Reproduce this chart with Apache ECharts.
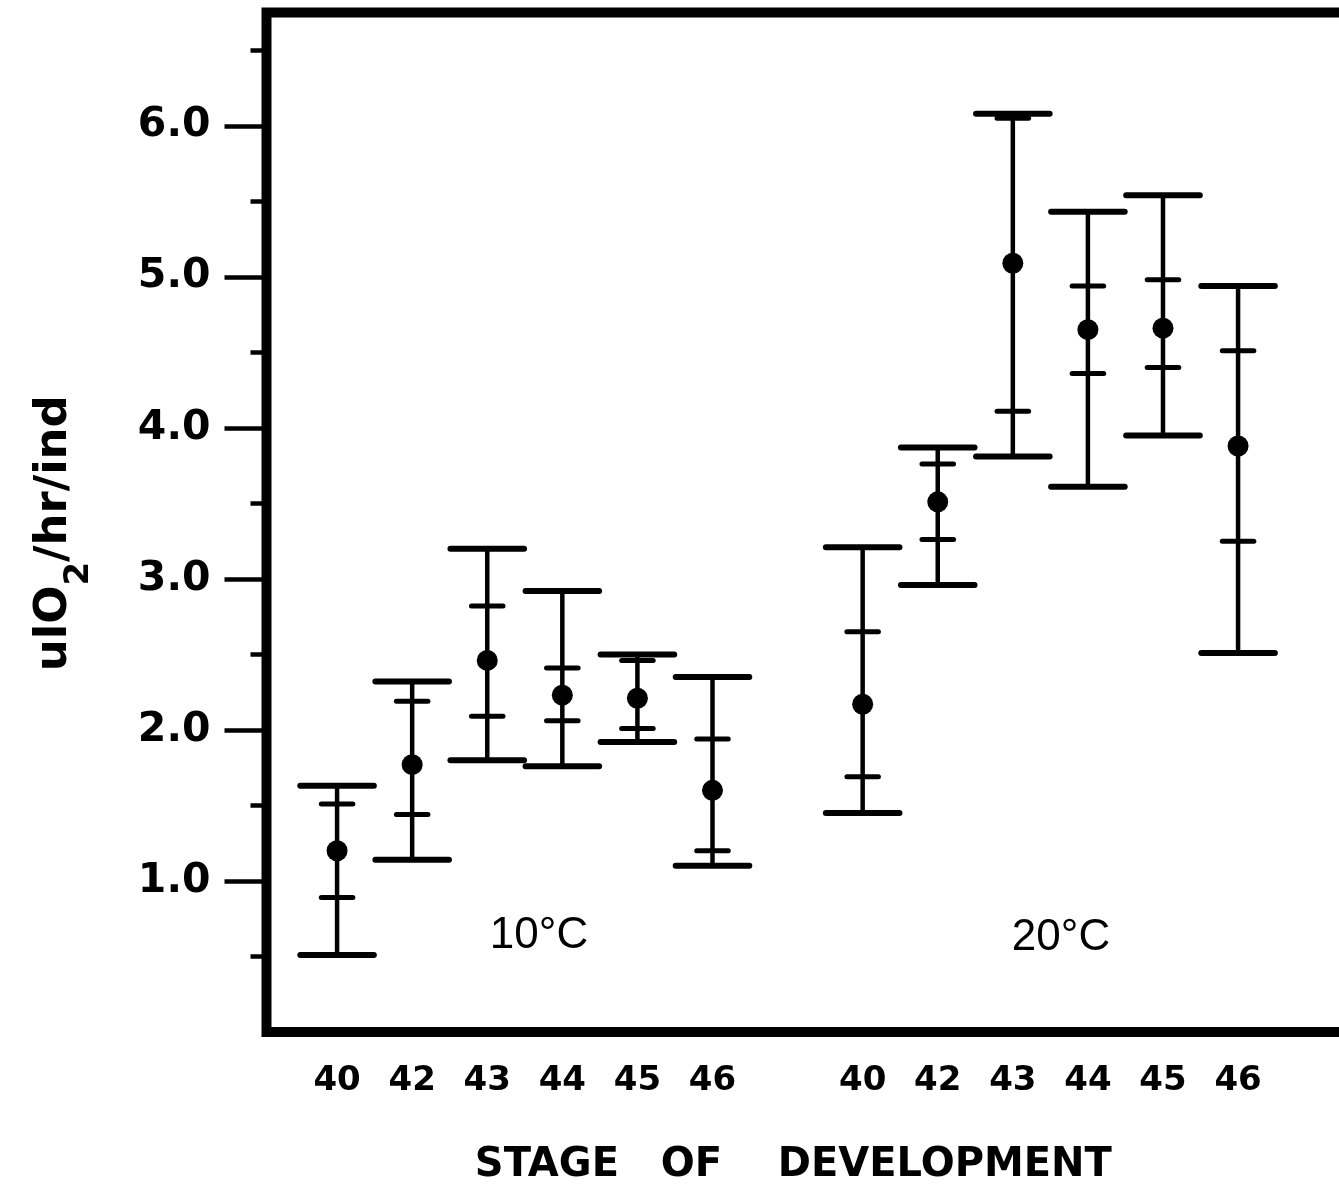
<!DOCTYPE html>
<html>
<head>
<meta charset="utf-8">
<script src="https://cdn.jsdelivr.net/npm/echarts@6/dist/echarts.min.js"></script>
<style>
  html, body { margin: 0; padding: 0; background: #ffffff; }
  #chart { width: 1339px; height: 1194px; }
</style>
</head>
<body>
<div id="chart"></div>
<script>
// Developmental stages shown within each temperature group
const stageLabels = ['40', '42', '43', '44', '45', '46'];
const tempLabels = ['10°C', '20°C'];

// Y axis ticks: labelled whole units and unlabelled half-unit marks
const yMajorTicks = [1, 2, 3, 4, 5, 6];
const yMinorTicks = [0.5, 1.5, 2.5, 3.5, 4.5, 5.5, 6.5];

// Oxygen consumption at 10°C (ul O2 / hr / individual)
const mean10      = [1.20, 1.77, 2.46, 2.23, 2.21, 1.60];
const innerHigh10 = [1.51, 2.19, 2.82, 2.41, 2.46, 1.94];
const innerLow10  = [0.89, 1.44, 2.09, 2.06, 2.01, 1.20];
const outerHigh10 = [1.63, 2.32, 3.20, 2.92, 2.50, 2.35];
const outerLow10  = [0.51, 1.14, 1.80, 1.76, 1.92, 1.10];

// Oxygen consumption at 20°C
const mean20      = [2.17, 3.51, 5.09, 4.65, 4.66, 3.88];
const innerHigh20 = [2.65, 3.76, 6.05, 4.94, 4.98, 4.51];
const innerLow20  = [1.69, 3.26, 4.11, 4.36, 4.40, 3.25];
const outerHigh20 = [3.21, 3.87, 6.08, 5.43, 5.54, 4.94];
const outerLow20  = [1.45, 2.96, 3.81, 3.61, 3.95, 2.51];

const groups = [
  { mean: mean10, innerLow: innerLow10, innerHigh: innerHigh10, outerLow: outerLow10, outerHigh: outerHigh10 },
  { mean: mean20, innerLow: innerLow20, innerHigh: innerHigh20, outerLow: outerLow20, outerHigh: outerHigh20 }
];

// One empty slot separates the two temperature groups on the x axis
const slotsPerGroup = stageLabels.length + 1;
const rows = [];
groups.forEach(function (g, gi) {
  stageLabels.forEach(function (s, i) {
    rows.push([gi * slotsPerGroup + i, g.mean[i], g.innerLow[i], g.innerHigh[i], g.outerLow[i], g.outerHigh[i]]);
  });
});
const labelSlots = rows.map(function (r) { return r[0]; });

const INK = '#000000';

function renderItem(params, api) {
  const x = api.value(0);
  const pMean = api.coord([x, api.value(1)]);
  const pIL = api.coord([x, api.value(2)]);
  const pIH = api.coord([x, api.value(3)]);
  const pOL = api.coord([x, api.value(4)]);
  const pOH = api.coord([x, api.value(5)]);
  const slotW = api.size([1, 0])[0];
  const outerHalf = slotW * 0.49;
  const innerHalf = slotW * 0.21;
  const cx = pMean[0];
  function cap(y, half, w) {
    return {
      type: 'line',
      shape: { x1: cx - half, y1: y, x2: cx + half, y2: y },
      style: { stroke: INK, lineWidth: w, lineCap: 'round' }
    };
  }
  return {
    type: 'group',
    children: [
      { type: 'line', shape: { x1: cx, y1: pOL[1], x2: cx, y2: pOH[1] },
        style: { stroke: INK, lineWidth: 4.5 } },
      cap(pOH[1], outerHalf, 6),
      cap(pOL[1], outerHalf, 6),
      cap(pIH[1], innerHalf, 5),
      cap(pIL[1], innerHalf, 5),
      { type: 'circle', shape: { cx: cx, cy: pMean[1], r: 10.5 }, style: { fill: INK } }
    ]
  };
}

const chart = echarts.init(document.getElementById('chart'), null, { renderer: 'canvas' });

chart.setOption({
  backgroundColor: '#ffffff',
  animation: false,
  grid: {
    left: 266.5, top: 12.5, width: 1085.7, height: 1019.5,
    outerBoundsMode: 'none',
    containLabel: false,
    show: true, borderColor: INK, borderWidth: 10, backgroundColor: 'transparent'
  },
  xAxis: {
    type: 'value',
    min: -0.94, max: 13.52,
    axisLine: { show: false, onZero: false },
    axisTick: { show: false },
    splitLine: { show: false },
    axisLabel: {
      customValues: labelSlots,
      formatter: function (v) { return stageLabels[Math.round(v) % slotsPerGroup]; },
      margin: 32,
      color: INK,
      fontFamily: 'DejaVu Sans',
      fontWeight: 'bold',
      fontSize: 34
    },
    name: 'STAGE   OF    DEVELOPMENT',
    nameLocation: 'middle',
    nameGap: 114,
    nameTextStyle: {
      color: INK, fontFamily: 'DejaVu Sans', fontWeight: 'bold', fontSize: 40,
      padding: [0, 32, 0, 0]
    }
  },
  yAxis: [
    {
      type: 'value',
      position: 'left',
      min: 0, max: 6.75,
      axisLine: { show: false, onZero: false },
      splitLine: { show: false },
      axisTick: {
        show: true, inside: false, length: 42,
        customValues: yMajorTicks,
        lineStyle: { color: INK, width: 4.5 }
      },
      axisLabel: {
        customValues: yMajorTicks,
        formatter: function (v) { return v.toFixed(1); },
        margin: 56,
        color: INK,
        fontFamily: 'DejaVu Sans',
        fontWeight: 'bold',
        fontSize: 41
      },
      name: '{a|ulO}{s|2}{a|/hr/ind}',
      nameLocation: 'middle',
      nameGap: 170,
      nameTextStyle: {
        color: INK,
        padding: [0, 22, 0, 0],
        rich: {
          a: { fontFamily: 'DejaVu Sans', fontWeight: 'bold', fontSize: 45, color: INK },
          s: { fontFamily: 'DejaVu Sans', fontWeight: 'bold', fontSize: 34, color: INK, padding: [50, 0, 0, 0] }
        }
      }
    },
    {
      type: 'value',
      position: 'left',
      offset: 0,
      min: 0, max: 6.75,
      axisLine: { show: false, onZero: false },
      splitLine: { show: false },
      axisLabel: { show: false },
      axisTick: {
        show: true, inside: false, length: 16,
        customValues: yMinorTicks,
        lineStyle: { color: INK, width: 4.5 }
      }
    }
  ],
  graphic: [
    { type: 'text', x: 539, y: 936, style: { text: tempLabels[0], fill: INK,
      font: '44px "Liberation Sans"', align: 'center', verticalAlign: 'middle' } },
    { type: 'text', x: 1061, y: 938, style: { text: tempLabels[1], fill: INK,
      font: '44px "Liberation Sans"', align: 'center', verticalAlign: 'middle' } }
  ],
  series: [
    {
      type: 'custom',
      renderItem: renderItem,
      encode: { x: 0, y: [1, 2, 3, 4, 5] },
      data: rows,
      silent: true
    }
  ]
});
</script>
</body>
</html>
